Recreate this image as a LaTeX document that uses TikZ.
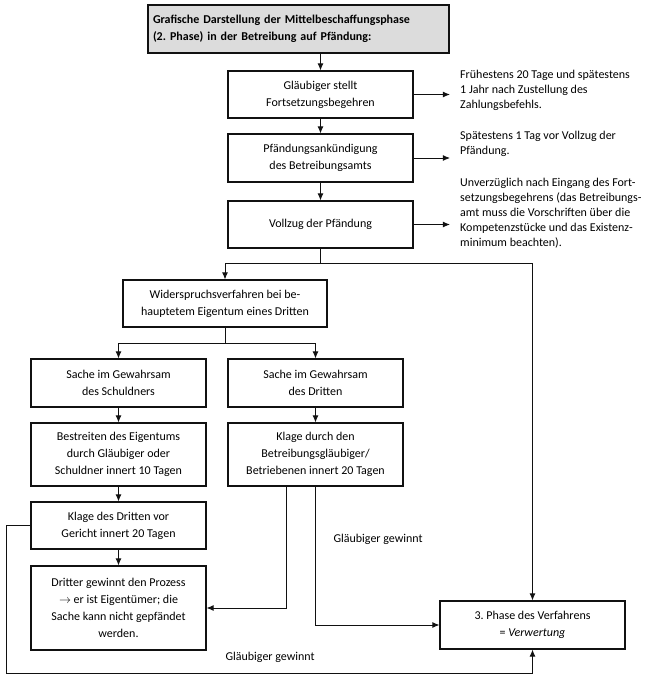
\documentclass[tikz,border=0pt]{standalone}
\usepackage{fontspec}
\setmainfont{Carlito}
\usepackage{tikz}
\usepackage{xcolor}
\usetikzlibrary{arrows.meta,positioning,calc}
\definecolor{phink}{HTML}{111111}
\definecolor{phgray}{HTML}{DCDCDC}
\frenchspacing

\begin{document}
\begin{tikzpicture}[
  x=1pt,y=-1pt,
  stepbox/.style={draw=phink,line width=1.1pt,fill=white,align=center,inner sep=0pt,
    minimum width=185pt,minimum height=47pt,font=\fontsize{12}{17}\selectfont},
  headbox/.style={draw=phink,line width=1.1pt,fill=phgray,align=left,inner xsep=5pt,
    text width=291pt,minimum height=48pt,font=\bfseries\fontsize{12}{17}\selectfont},
  note/.style={anchor=north west,align=left,inner sep=0pt,font=\fontsize{12}{15}\selectfont},
  link/.style={-{Latex[length=2.5mm,width=2.1mm]},draw=phink,line width=0.9pt},
  plain/.style={draw=phink,line width=0.9pt},
]
\useasboundingbox (0,0) rectangle (654,680);

% Kopf und Hauptstrang
\node[headbox] (head) at (298.5,29)
  {Grafische Darstellung der Mittelbeschaffungsphase\\(2. Phase) in der Betreibung auf Pfändung:};
\node[stepbox] (fort) at (320.5,94.5) {Gläubiger stellt\\Fortsetzungsbegehren};
\node[stepbox,minimum height=48pt] (ankuend) at (320.5,158) {Pfändungsankündigung\\des Betreibungsamts};
\node[stepbox] (vollzug) at (320.5,224.5) {Vollzug der Pfändung};
\draw[link] (fort.north |- head.south) -- (fort.north);
\draw[link] (fort) -- (ankuend);
\draw[link] (ankuend) -- (vollzug);

% Fristen rechts
\coordinate (tip) at (450,0);
\node[note] (n1) at (460,70) {Frühestens 20 Tage und spätestens\\1 Jahr nach Zustellung des\\Zahlungsbefehls.};
\node[note] (n2) at (460,131) {Spätestens 1 Tag vor Vollzug der\\Pfändung.};
\node[note] (n3) at (460,178) {Unverzüglich nach Eingang des Fort-\\setzungsbegehrens (das Betreibungs-\\amt muss die Vorschriften über die\\Kompetenzstücke und das Existenz-\\minimum beachten).};
\foreach \b in {fort,ankuend,vollzug}
  \draw[link] (\b.east) -- (\b.east -| tip);

% Widerspruchsverfahren
\node[stepbox,minimum width=204pt] (wider) at (225,303.5) {Widerspruchsverfahren bei be-\\hauptetem Eigentum eines Dritten};
\node[stepbox,minimum width=185pt,minimum height=48pt] (verwertung) at (532.5,625) {3. Phase des Verfahrens\\= \textit{Verwertung}};
\coordinate (split) at (320.5,263);
\draw[plain] (vollzug) -- (split);
\draw[link] (split) -| (wider.north);
\draw[link] (split) -| (verwertung.north);

% zwei Fälle
\node[stepbox,minimum width=175pt,minimum height=48pt] (schuldner) at (118.5,383) {Sache im Gewahrsam\\des Schuldners};
\node[stepbox,minimum width=175pt,minimum height=48pt] (dritte) at (315.5,383) {Sache im Gewahrsam\\des Dritten};
\node[stepbox,minimum width=175pt,minimum height=63pt] (bestreiten) at (118.5,454.5) {Bestreiten des Eigentums\\durch Gläubiger oder\\Schuldner innert 10 Tagen};
\node[stepbox,minimum width=175pt,minimum height=63pt] (klagebg) at (315.5,454.5) {Klage durch den\\Betreibungsgläubiger/\\Betriebenen innert 20 Tagen};
\node[stepbox,minimum width=175pt] (klagedr) at (118.5,525.5) {Klage des Dritten vor\\Gericht innert 20 Tagen};
\node[stepbox,minimum width=175pt,minimum height=84pt] (gewinnt) at (118.5,608) {Dritter gewinnt den Prozess\\$\rightarrow$ er ist Eigentümer; die\\Sache kann nicht gepfändet\\werden.};
\coordinate (split2) at (225,343);
\draw[plain] (wider) -- (split2);
\draw[link] (split2) -| (schuldner.north);
\draw[link] (split2) -| (dritte.north);
\draw[link] (schuldner) -- (bestreiten);
\draw[link] (bestreiten) -- (klagedr);
\draw[link] (klagedr) -- (gewinnt);
\draw[link] (dritte) -- (klagebg);
\draw[link] ([xshift=-29.5pt]klagebg.south) |- (gewinnt.east);
\draw[link] (klagebg.south) |- (verwertung.west);
\coordinate (loop) at (6,673);
\draw[link] (klagedr.west) -- (klagedr.west -| loop) -- (loop) -| (verwertung.south);
\node[anchor=west,font=\fontsize{12}{15}\selectfont] (g1) at (330,539) {Gläubiger gewinnt};
\node[anchor=west,font=\fontsize{12}{15}\selectfont] (g2) at (222,657) {Gläubiger gewinnt};
\end{tikzpicture}
\end{document}
